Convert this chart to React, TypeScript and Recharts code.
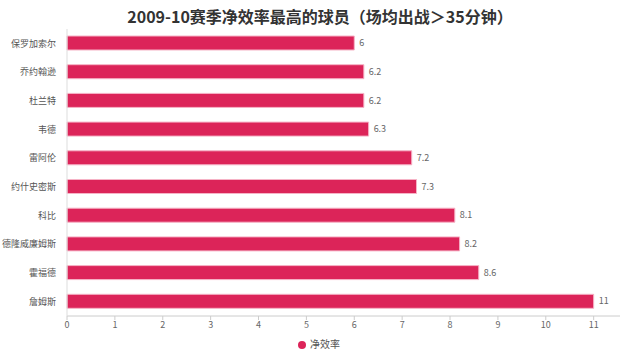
import { Bar, BarChart, LabelList, Legend, XAxis, YAxis } from "recharts";

const PLAYERS = [
  "保罗加索尔",
  "乔约翰逊",
  "杜兰特",
  "韦德",
  "雷阿伦",
  "约什史密斯",
  "科比",
  "德隆威廉姆斯",
  "霍福德",
  "詹姆斯",
];

const NET_EFF = [6, 6.2, 6.2, 6.3, 7.2, 7.3, 8.1, 8.2, 8.6, 11];

const X_TICKS = [0, 1, 2, 3, 4, 5, 6, 7, 8, 9, 10, 11];

const data = PLAYERS.map((name, i) => ({ name, value: NET_EFF[i] }));

const FONT = "'Noto Sans CJK SC', 'Noto Sans', sans-serif";

export default function App() {
  return (
    <div
      style={{
        position: "absolute",
        left: 0,
        top: 0,
        width: 640,
        height: 358,
        background: "#fff",
        fontFamily: FONT,
      }}
    >
      <div
        style={{
          position: "absolute",
          top: 4,
          left: 0,
          width: 640,
          textAlign: "center",
          fontSize: 16,
          fontWeight: "bold",
          color: "#333",
        }}
      >
        2009-10赛季净效率最高的球员（场均出战＞35分钟）
      </div>
      <BarChart
        width={640}
        height={358}
        data={data}
        layout="vertical"
        margin={{ top: 29, right: 20, bottom: 0, left: 0 }}
        barSize={14}
      >
        <XAxis
          type="number"
          domain={[0, 11.55]}
          ticks={X_TICKS}
          height={20}
          tick={{ fontSize: 9, fill: "#666", fontFamily: FONT }}
          stroke="#ccc"
          tickLine={{ stroke: "#ccc" }}
          tickSize={4}
        />
        <YAxis
          type="category"
          dataKey="name"
          width={67}
          tick={{ fontSize: 9, fill: "#555", fontFamily: FONT }}
          stroke="#ddd"
          tickLine={false}
          tickMargin={5}
        />
        <Legend
          verticalAlign="bottom"
          height={22}
          iconType="circle"
          iconSize={8}
          wrapperStyle={{ fontSize: 10, color: "#555", fontFamily: FONT, left: 14 }}
          formatter={(v) => <span style={{ color: "#555" }}>{v}</span>}
        />
        <Bar
          dataKey="value"
          name="净效率"
          fill="#dc2459"
          stroke="#f6b3c6"
          strokeWidth={1}
          isAnimationActive={false}
        >
          <LabelList
            dataKey="value"
            position="right"
            offset={5}
            style={{ fontSize: 9, fill: "#666", fontFamily: FONT }}
          />
        </Bar>
      </BarChart>
    </div>
  );
}
